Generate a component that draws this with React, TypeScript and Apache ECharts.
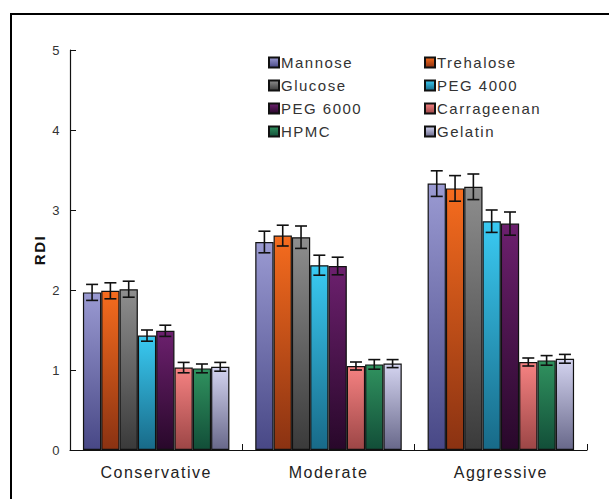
import React, { useEffect, useRef } from "react";
import * as echarts from "echarts";

const categories = ["Conservative", "Moderate", "Aggressive"];
const seriesNames = [
  "Mannose",
  "Trehalose",
  "Glucose",
  "PEG 4000",
  "PEG 6000",
  "Carrageenan",
  "HPMC",
  "Gelatin",
];
// RDI means per excipient, ordered Conservative / Moderate / Aggressive
const mannose = [1.97, 2.6, 3.33];
const trehalose = [1.99, 2.68, 3.27];
const glucose = [2.01, 2.66, 3.29];
const peg4000 = [1.43, 2.31, 2.86];
const peg6000 = [1.49, 2.3, 2.83];
const carrageenan = [1.03, 1.05, 1.1];
const hpmc = [1.02, 1.07, 1.12];
const gelatin = [1.04, 1.08, 1.14];
// standard deviations
const mannoseErr = [0.1, 0.135, 0.16];
const trehaloseErr = [0.1, 0.13, 0.16];
const glucoseErr = [0.1, 0.14, 0.16];
const peg4000Err = [0.07, 0.125, 0.14];
const peg6000Err = [0.07, 0.11, 0.145];
const carrageenanErr = [0.065, 0.05, 0.05];
const hpmcErr = [0.055, 0.06, 0.06];
const gelatinErr = [0.055, 0.05, 0.055];
const yTicks = [0, 1, 2, 3, 4, 5];

const values = [mannose, trehalose, glucose, peg4000, peg6000, carrageenan, hpmc, gelatin];
const errors = [
  mannoseErr,
  trehaloseErr,
  glucoseErr,
  peg4000Err,
  peg6000Err,
  carrageenanErr,
  hpmcErr,
  gelatinErr,
];

// top / bottom colours of each bar gradient
const gradients: [string, string][] = [
  ["#9a9ad2", "#484886"],
  ["#f66c1e", "#8a3212"],
  ["#8e8e8e", "#3a3a3a"],
  ["#3acaf2", "#186a88"],
  ["#6c206e", "#28082a"],
  ["#f68282", "#9c4646"],
  ["#30925f", "#124e38"],
  ["#d4d4f0", "#68688a"],
];

const CATEGORY_GAP = 0.15;
const FONT = "Liberation Sans, Arial, sans-serif";

export default function App() {
  const ref = useRef<HTMLDivElement>(null);

  useEffect(() => {
    document.body.style.margin = "0";
    if (!ref.current) return;
    const chart = echarts.init(ref.current, null, { renderer: "svg" });

    const barSeries = seriesNames.map((name, i) => ({
      name,
      type: "bar",
      data: values[i],
      barGap: "0%",
      barCategoryGap: `${CATEGORY_GAP * 100}%`,
      itemStyle: {
        color: new echarts.graphic.LinearGradient(0, 0, 0, 1, [
          { offset: 0, color: gradients[i][0] },
          { offset: 1, color: gradients[i][1] },
        ]),
        borderColor: "#111",
        borderWidth: 1.2,
      },
    }));

    const errData: number[][] = [];
    values.forEach((vals, s) =>
      vals.forEach((v, c) => errData.push([c, s, v, errors[s][c]]))
    );

    const errorSeries = {
      type: "custom",
      name: "err",
      silent: true,
      z: 10,
      data: errData,
      encode: { x: 0, y: 2 },
      renderItem: (_p: any, api: any) => {
        const c = api.value(0);
        const s = api.value(1);
        const v = api.value(2);
        const e = api.value(3);
        const band = api.size([1, 0])[0];
        const groupW = band * (1 - CATEGORY_GAP);
        const barW = groupW / seriesNames.length;
        const cx = api.coord([c, 0])[0] - groupW / 2 + barW * (s + 0.5);
        const yHi = api.coord([c, v + e])[1];
        const yLo = api.coord([c, v - e])[1];
        const cap = 6;
        const style = { stroke: "#111", lineWidth: 1.6 };
        return {
          type: "group",
          children: [
            { type: "line", shape: { x1: cx, y1: yHi, x2: cx, y2: yLo }, style },
            { type: "line", shape: { x1: cx - cap, y1: yHi, x2: cx + cap, y2: yHi }, style },
            { type: "line", shape: { x1: cx - cap, y1: yLo, x2: cx + cap, y2: yLo }, style },
          ],
        };
      },
    };

    const legendCommon = {
      orient: "vertical",
      icon: "rect",
      itemWidth: 10,
      itemHeight: 10,
      itemGap: 8,
      top: 50,
      textStyle: {
        fontFamily: FONT,
        fontSize: 15,
        color: "#333",
        padding: [0, 0, 0, -3],
      },
    };

    chart.setOption({
      animation: false,
      backgroundColor: "#fff",
      graphic: [
        {
          type: "rect",
          shape: { x: 11, y: 14, width: 700, height: 600 },
          style: { fill: "none", stroke: "#000", lineWidth: 2 },
          silent: true,
          z: -1,
        },
      ],
      legend: [
        { ...legendCommon, left: 263, data: ["Mannose", "Glucose", "PEG 6000", "HPMC"] },
        { ...legendCommon, left: 419, data: ["Trehalose", "PEG 4000", "Carrageenan", "Gelatin"] },
      ],
      grid: { left: 70, right: 22, top: 50, bottom: 49 },
      xAxis: {
        type: "category",
        data: categories,
        axisLine: { lineStyle: { color: "#111", width: 1.2 } },
        axisTick: { show: true, inside: true, length: 6, lineStyle: { color: "#111" } },
        axisLabel: {
          fontFamily: FONT,
          fontSize: 16,
          color: "#222",
          margin: 14,
        },
      },
      yAxis: {
        type: "value",
        min: yTicks[0],
        max: yTicks[yTicks.length - 1],
        interval: 1,
        name: "RDI",
        nameLocation: "middle",
        nameGap: 23,
        nameRotate: 90,
        nameMoveOverlap: false,
        nameTextStyle: {
          fontFamily: FONT,
          fontSize: 15,
          fontWeight: "bold",
          color: "#111",
        },
        splitLine: { show: false },
        axisLine: { show: true, lineStyle: { color: "#111", width: 1.2 } },
        axisTick: { show: true, inside: true, length: 6, lineStyle: { color: "#111" } },
        axisLabel: {
          fontFamily: FONT,
          fontSize: 13,
          color: "#333",
          margin: 9,
        },
      },
      series: [...barSeries, errorSeries],
    });

    return () => chart.dispose();
  }, []);

  return <div ref={ref} style={{ width: 609, height: 499, letterSpacing: "1.5px" }} />;
}
